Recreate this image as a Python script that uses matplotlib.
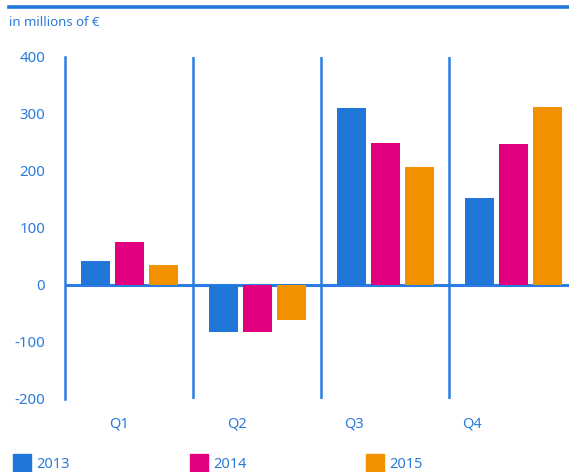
import matplotlib.pyplot as plt
import numpy as np
from matplotlib.patches import Rectangle

plt.rcParams['font.family'] = ['Noto Sans', 'DejaVu Sans']

quarters = ['Q1', 'Q2', 'Q3', 'Q4']
years = ['2013', '2014', '2015']
values_2013 = [42, -84, 309, 151]
values_2014 = [74, -84, 249, 246]
values_2015 = [35, -63, 207, 312]
y_ticks = [400, 300, 200, 100, 0, -100, -200]

colors = ['#2176d9', '#e2007f', '#f39200']
line_blue = '#2a7de1'
text_blue = '#2b7bd9'

W, H = 569, 472
fig = plt.figure(figsize=(W / 100, H / 100), dpi=100)

# axes runs off the right edge of the figure, like the original layout
left, right = 64.7, 64.7 + 512
top, bottom = 56.5, 398.5
ax = fig.add_axes([left / W, 1 - bottom / H, (right - left) / W, (bottom - top) / H])
ax.set_xlim(-0.5, 3.5)
ax.set_ylim(-200, 400)

x = np.arange(len(quarters))
step = 34 / 128
width = 29 / 128
for i, vals in enumerate([values_2013, values_2014, values_2015]):
    ax.bar(x + (i - 1) * step + 0.01, vals, width=width, color=colors[i], zorder=3)

for sp in ['top', 'right', 'bottom']:
    ax.spines[sp].set_visible(False)
ax.spines['left'].set_color(line_blue)
ax.spines['left'].set_linewidth(1.8)
for xv in [0.5, 1.5, 2.5]:
    ax.axvline(xv, color=line_blue, lw=1.8, zorder=1)
ax.axhline(0, color=line_blue, lw=2.2, zorder=2)

ax.set_yticks(y_ticks)
ax.set_yticklabels([str(v) for v in y_ticks])
ax.tick_params(axis='y', length=0, pad=14, labelsize=10.8, labelcolor=text_blue)

# quarter labels sit slightly left of their bands
label_pos = -0.076 + 0.919 * x
ax.set_xticks(label_pos)
ax.set_xticklabels(quarters)
ax.tick_params(axis='x', length=0, pad=13, labelsize=10.5, labelcolor=text_blue)

# header rule and unit note
fig.add_artist(plt.Line2D([9 / W, 1], [1 - 7 / H, 1 - 7 / H], color='#2176d9', lw=2.6))
fig.text(9 / W, 1 - 23 / H, 'in millions of €', fontsize=9.5, color=text_blue, va='center')

# legend along the bottom
for i, (yr, lx) in enumerate(zip(years, [13, 190, 366])):
    fig.add_artist(Rectangle((lx / W, 0), 18 / W, 18 / H, color=colors[i]))
    fig.text((lx + 23) / W, 1 - 465 / H, yr, fontsize=10.5, color=text_blue, va='center')

fig.savefig('out.png', dpi=100)
